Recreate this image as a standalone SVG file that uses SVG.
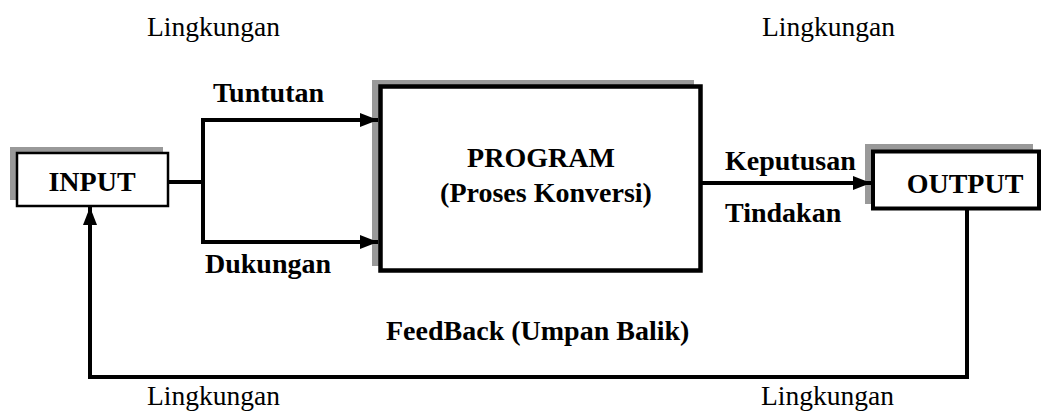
<svg xmlns="http://www.w3.org/2000/svg" width="1048" height="412" viewBox="0 0 1048 412">
<style>
.env{font-family:"Liberation Serif","Times New Roman",serif;font-size:27.5px;fill:#000}
.b{font-family:"Liberation Serif","Times New Roman",serif;font-size:28px;font-weight:bold;fill:#000}
.sh{fill:#999}
.box{fill:#fff;stroke:#000}
.ln{fill:none;stroke:#000;stroke-width:4}
</style>
<defs>
<marker id="ah" markerUnits="userSpaceOnUse" markerWidth="18" markerHeight="16" viewBox="0 0 18 16" refX="18" refY="8" orient="auto">
<path d="M0,1 L18,8 L0,15 Z" fill="#000"/>
</marker>
</defs>
<rect width="1048" height="412" fill="#fff"/>
<g id="env-labels">
<text class="env" x="147" y="36">Lingkungan</text>
<text class="env" x="762" y="36">Lingkungan</text>
<text class="env" x="147" y="405">Lingkungan</text>
<text class="env" x="761" y="405">Lingkungan</text>
</g>
<g id="input">
<rect class="sh" x="10" y="147" width="153" height="53"/>
<rect class="box" x="17" y="153" width="151" height="53" stroke-width="2.5"/>
<text class="b" x="92" y="191" text-anchor="middle">INPUT</text>
</g>
<g id="program">
<rect class="sh" x="372" y="80" width="322" height="186"/>
<rect class="box" x="380.5" y="86.5" width="320" height="184" stroke-width="4.5"/>
<text class="b" x="541" y="167" text-anchor="middle">PROGRAM</text>
<text class="b" x="546" y="202" text-anchor="middle">(Proses Konversi)</text>
</g>
<g id="output">
<rect class="sh" x="865" y="144" width="168" height="60"/>
<rect class="box" x="873" y="151.5" width="166" height="57" stroke-width="4"/>
<text class="b" x="965" y="193" text-anchor="middle">OUTPUT</text>
</g>
<g id="connectors">
<polyline class="ln" points="168,182 203,182"/>
<polyline class="ln" points="203,242 203,120 378,120" marker-end="url(#ah)"/>
<polyline class="ln" points="203,240 203,242 378,242" marker-end="url(#ah)"/>
<line class="ln" x1="702" y1="183" x2="871" y2="183" marker-end="url(#ah)"/>
<polyline class="ln" points="967,210 967,377 90,377 90,207" marker-end="url(#ah)"/>
</g>
<g id="labels">
<text class="b" x="213" y="102">Tuntutan</text>
<text class="b" x="205" y="273">Dukungan</text>
<text class="b" x="725" y="170">Keputusan</text>
<text class="b" x="725" y="222">Tindakan</text>
<text class="b" x="386" y="340">FeedBack (Umpan Balik)</text>
</g>
</svg>
